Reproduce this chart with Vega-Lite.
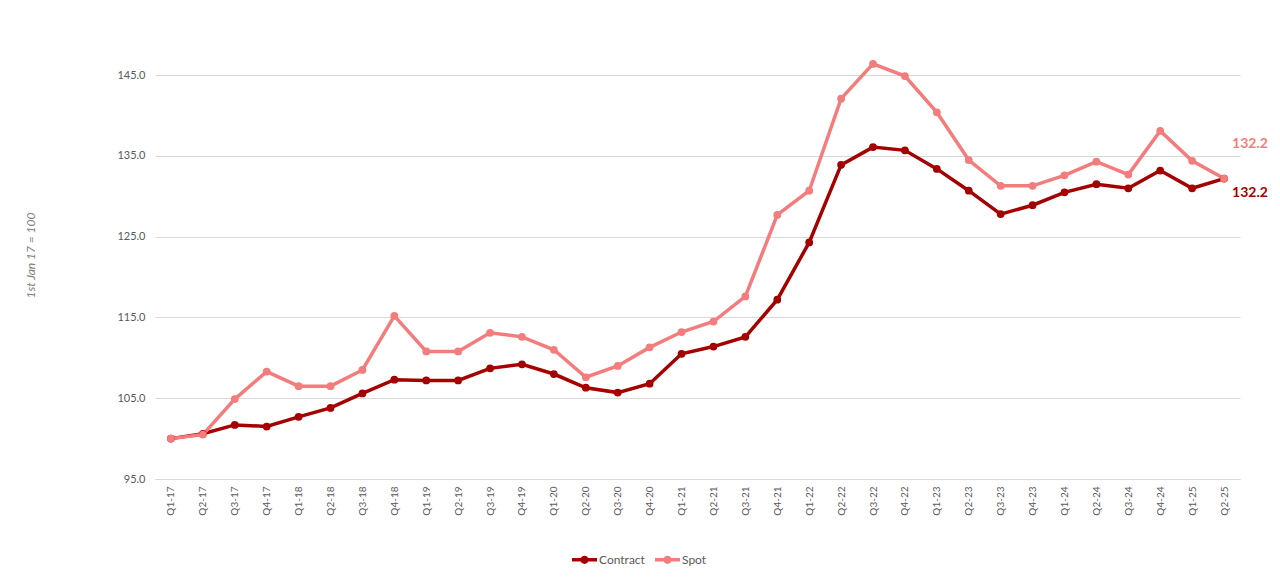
{
  "$schema": "https://vega.github.io/schema/vega-lite/v6.json",
  "description": "Contract vs Spot index, 1st Jan 17 = 100",
  "width": 1085,
  "height": 428,
  "autosize": "none",
  "padding": {"left": 155, "top": 51, "right": 40, "bottom": 108},
  "background": "white",
  "config": {"view": {"stroke": null}, "font": "Lato"},
  "data": {
    "values": [
      {"quarter": "Q1-17", "series": "Contract", "value": 100.0},
      {"quarter": "Q2-17", "series": "Contract", "value": 100.6},
      {"quarter": "Q3-17", "series": "Contract", "value": 101.7},
      {"quarter": "Q4-17", "series": "Contract", "value": 101.5},
      {"quarter": "Q1-18", "series": "Contract", "value": 102.7},
      {"quarter": "Q2-18", "series": "Contract", "value": 103.8},
      {"quarter": "Q3-18", "series": "Contract", "value": 105.6},
      {"quarter": "Q4-18", "series": "Contract", "value": 107.3},
      {"quarter": "Q1-19", "series": "Contract", "value": 107.2},
      {"quarter": "Q2-19", "series": "Contract", "value": 107.2},
      {"quarter": "Q3-19", "series": "Contract", "value": 108.7},
      {"quarter": "Q4-19", "series": "Contract", "value": 109.2},
      {"quarter": "Q1-20", "series": "Contract", "value": 108.0},
      {"quarter": "Q2-20", "series": "Contract", "value": 106.3},
      {"quarter": "Q3-20", "series": "Contract", "value": 105.7},
      {"quarter": "Q4-20", "series": "Contract", "value": 106.8},
      {"quarter": "Q1-21", "series": "Contract", "value": 110.5},
      {"quarter": "Q2-21", "series": "Contract", "value": 111.4},
      {"quarter": "Q3-21", "series": "Contract", "value": 112.6},
      {"quarter": "Q4-21", "series": "Contract", "value": 117.2},
      {"quarter": "Q1-22", "series": "Contract", "value": 124.3},
      {"quarter": "Q2-22", "series": "Contract", "value": 133.9},
      {"quarter": "Q3-22", "series": "Contract", "value": 136.1},
      {"quarter": "Q4-22", "series": "Contract", "value": 135.7},
      {"quarter": "Q1-23", "series": "Contract", "value": 133.4},
      {"quarter": "Q2-23", "series": "Contract", "value": 130.7},
      {"quarter": "Q3-23", "series": "Contract", "value": 127.8},
      {"quarter": "Q4-23", "series": "Contract", "value": 128.9},
      {"quarter": "Q1-24", "series": "Contract", "value": 130.5},
      {"quarter": "Q2-24", "series": "Contract", "value": 131.5},
      {"quarter": "Q3-24", "series": "Contract", "value": 131.0},
      {"quarter": "Q4-24", "series": "Contract", "value": 133.2},
      {"quarter": "Q1-25", "series": "Contract", "value": 131.0},
      {"quarter": "Q2-25", "series": "Contract", "value": 132.2},
      {"quarter": "Q1-17", "series": "Spot", "value": 100.0},
      {"quarter": "Q2-17", "series": "Spot", "value": 100.5},
      {"quarter": "Q3-17", "series": "Spot", "value": 104.9},
      {"quarter": "Q4-17", "series": "Spot", "value": 108.3},
      {"quarter": "Q1-18", "series": "Spot", "value": 106.5},
      {"quarter": "Q2-18", "series": "Spot", "value": 106.5},
      {"quarter": "Q3-18", "series": "Spot", "value": 108.5},
      {"quarter": "Q4-18", "series": "Spot", "value": 115.2},
      {"quarter": "Q1-19", "series": "Spot", "value": 110.8},
      {"quarter": "Q2-19", "series": "Spot", "value": 110.8},
      {"quarter": "Q3-19", "series": "Spot", "value": 113.1},
      {"quarter": "Q4-19", "series": "Spot", "value": 112.6},
      {"quarter": "Q1-20", "series": "Spot", "value": 111.0},
      {"quarter": "Q2-20", "series": "Spot", "value": 107.6},
      {"quarter": "Q3-20", "series": "Spot", "value": 109.0},
      {"quarter": "Q4-20", "series": "Spot", "value": 111.3},
      {"quarter": "Q1-21", "series": "Spot", "value": 113.2},
      {"quarter": "Q2-21", "series": "Spot", "value": 114.5},
      {"quarter": "Q3-21", "series": "Spot", "value": 117.6},
      {"quarter": "Q4-21", "series": "Spot", "value": 127.7},
      {"quarter": "Q1-22", "series": "Spot", "value": 130.7},
      {"quarter": "Q2-22", "series": "Spot", "value": 142.1},
      {"quarter": "Q3-22", "series": "Spot", "value": 146.4},
      {"quarter": "Q4-22", "series": "Spot", "value": 144.9},
      {"quarter": "Q1-23", "series": "Spot", "value": 140.4},
      {"quarter": "Q2-23", "series": "Spot", "value": 134.5},
      {"quarter": "Q3-23", "series": "Spot", "value": 131.3},
      {"quarter": "Q4-23", "series": "Spot", "value": 131.3},
      {"quarter": "Q1-24", "series": "Spot", "value": 132.6},
      {"quarter": "Q2-24", "series": "Spot", "value": 134.3},
      {"quarter": "Q3-24", "series": "Spot", "value": 132.7},
      {"quarter": "Q4-24", "series": "Spot", "value": 138.1},
      {"quarter": "Q1-25", "series": "Spot", "value": 134.4},
      {"quarter": "Q2-25", "series": "Spot", "value": 132.2}
    ]
  },
  "encoding": {
    "x": {
      "field": "quarter",
      "type": "ordinal",
      "sort": null,
      "scale": {"type": "point", "padding": 0.5},
      "axis": {
        "title": null,
        "labelAngle": 270,
        "labelAlign": "right",
        "labelBaseline": "middle",
        "labelPadding": 7,
        "labelFontSize": 10,
        "labelColor": "#595959",
        "ticks": false,
        "domainColor": "#d9d9d9",
        "grid": false
      }
    },
    "y": {
      "field": "value",
      "type": "quantitative",
      "scale": {"domain": [95, 148], "nice": false, "zero": false},
      "axis": {
        "values": [95, 105, 115, 125, 135, 145],
        "format": ".1f",
        "domain": false,
        "ticks": false,
        "gridColor": "#d9d9d9",
        "labelFontSize": 11,
        "labelColor": "#595959",
        "labelPadding": 10,
        "title": "1st Jan 17 = 100",
        "titleFontStyle": "italic",
        "titleFontWeight": "normal",
        "titleFontSize": 12,
        "titleColor": "#7f7f7f",
        "titleX": -125,
        "titleY": 204,
        "titleBaseline": "middle"
      }
    },
    "color": {
      "field": "series",
      "type": "nominal",
      "scale": {"domain": ["Contract", "Spot"], "range": ["#a50000", "#f47c7c"]},
      "legend": {
        "title": null,
        "orient": "none",
        "direction": "horizontal",
        "legendX": 417,
        "legendY": 496,
        "padding": 0,
        "symbolType": "M-1,-0.14H1V0.14H-1Z M-0.33,0A0.33,0.33 0 1,1 0.33,0A0.33,0.33 0 1,1 -0.33,0Z",
        "symbolSize": 625,
        "labelFontSize": 12,
        "labelColor": "#595959",
        "labelOffset": 2,
        "columnPadding": 10,
        "encode": {
          "symbols": {
            "update": {
              "fill": {"scale": "color", "field": "value"},
              "strokeWidth": {"value": 0}
            }
          }
        }
      }
    }
  },
  "layer": [
    {
      "mark": {"type": "line", "strokeWidth": 3.5, "point": {"filled": true, "size": 60}}
    },
    {
      "transform": [{"filter": "datum.series === 'Spot' && datum.quarter === 'Q2-25'"}],
      "mark": {"type": "text", "align": "left", "dx": 8, "dy": -35, "fontSize": 14, "fontWeight": "bold"},
      "encoding": {
        "text": {"field": "value", "format": ".1f"},
        "color": {"value": "#f47c7c"}
      }
    },
    {
      "transform": [{"filter": "datum.series === 'Contract' && datum.quarter === 'Q2-25'"}],
      "mark": {"type": "text", "align": "left", "dx": 8, "dy": 14, "fontSize": 14, "fontWeight": "bold"},
      "encoding": {
        "text": {"field": "value", "format": ".1f"},
        "color": {"value": "#a50000"}
      }
    }
  ]
}
